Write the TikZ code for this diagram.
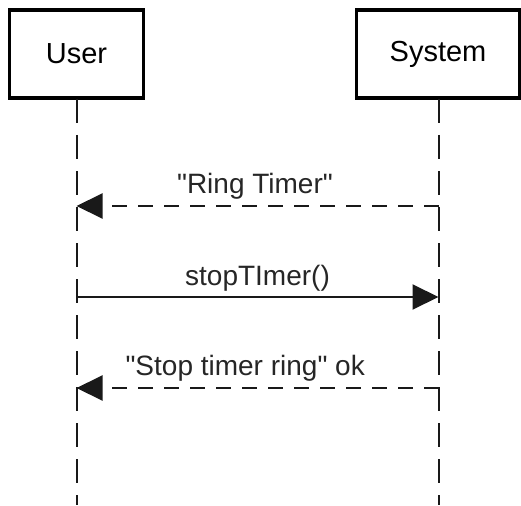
\documentclass[tikz,border=0pt]{standalone}
\usepackage{fontspec}
\setmainfont{Liberation Sans}
\usetikzlibrary{arrows.meta}
\begin{document}
\begin{tikzpicture}[x=1pt,y=-1pt,
  actor/.style={draw=black, line width=3.5pt, minimum width=134pt, minimum height=88pt, inner sep=0pt, font=\fontsize{29}{33}\selectfont},
  lifeline/.style={draw=black!90, line width=2pt, dash pattern=on 24pt off 12pt},
  msgline/.style={draw=black!90, line width=2pt, -{Triangle[length=26pt,width=25pt]}},
  reply/.style={msgline, dash pattern=on 15pt off 11pt},
  msglabel/.style={anchor=base, yshift=13pt, font=\fontsize{28}{32}\selectfont, text=black!85, inner sep=0pt}]
\useasboundingbox (0,0) rectangle (521,505);
\node[actor] (user) at (76.5,54) {User};
\node[actor, minimum width=163pt] (sys) at (438,54) {System};
\coordinate (uend) at (76.5,505);
\coordinate (send) at (438.5,505);
\coordinate (ub) at (76.5,99);
\coordinate (sb) at (438.5,99);
\draw[lifeline] (ub) -- (uend);
\draw[lifeline] (sb) -- (send);
\coordinate (s1) at (438.5,206);
\coordinate (u1) at (76.5,206);
\coordinate (u2) at (76.5,297);
\coordinate (s2) at (438.5,297);
\coordinate (s3) at (438.5,388);
\coordinate (u3) at (76.5,388);
\draw[reply] (s1) -- node[msglabel, pos=0.507] {\textquotedbl Ring Timer\textquotedbl} (u1);
\draw[msgline] (u2) -- node[msglabel, pos=0.5, yshift=-1pt] {stopTImer()} (s2);
\draw[reply] (s3) -- node[msglabel, pos=0.534] {\textquotedbl Stop timer ring\textquotedbl{} ok} (u3);
\end{tikzpicture}
\end{document}
